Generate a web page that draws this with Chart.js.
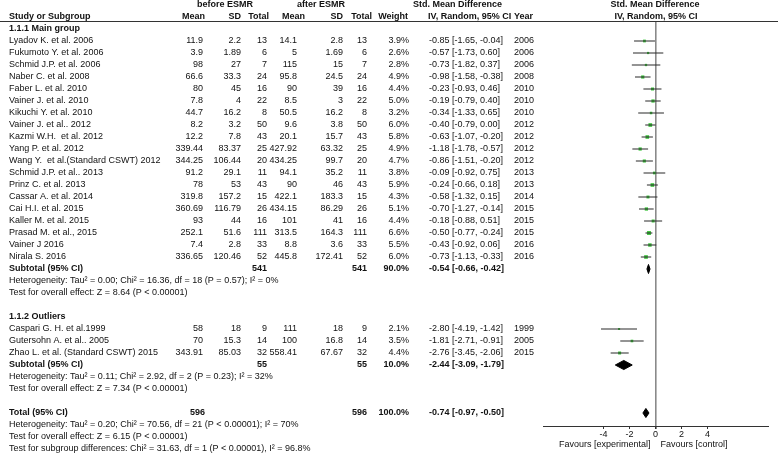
<!DOCTYPE html>
<html>
<head>
<meta charset="utf-8">
<script src="https://cdn.jsdelivr.net/npm/chart.js@4.4.1/dist/chart.umd.min.js"></script>
<style>
  html, body { margin: 0; padding: 0; background: #fff; }
  canvas { display: block; }
</style>
</head>
<body>
<canvas id="forest" width="778" height="457"></canvas>
<script>
/**
 * 数据
 */
var studies = [
    'Lyadov K. et al. 2006', 'Fukumoto Y. et al. 2006', 'Schmid J.P. et al. 2006',
    'Naber C. et al. 2008', 'Faber L. et al. 2010', 'Vainer J. et al. 2010',
    'Kikuchi Y. et al. 2010', 'Vainer J. et al.. 2012', 'Kazmi W.H.  et al. 2012',
    'Yang P. et al. 2012', 'Wang Y.  et al.(Standard CSWT) 2012', 'Schmid J.P. et al.. 2013',
    'Prinz C. et al. 2013', 'Cassar A. et al. 2014', 'Cai H.I. et al. 2015',
    'Kaller M. et al. 2015', 'Prasad M. et al., 2015', 'Vainer J 2016', 'Nirala S. 2016',
    'Caspari G. H. et al.1999', 'Gutersohn A. et al.. 2005', 'Zhao L. et al. (Standard CSWT) 2015'
];
var subgroup = [0,0,0,0,0,0,0,0,0,0,0,0,0,0,0,0,0,0,0, 1,1,1];
var beforeMean = ['11.9','3.9','98','66.6','80','7.8','44.7','8.2','12.2','339.44','344.25','91.2','78','319.8','360.69','93','252.1','7.4','336.65','58','70','343.91'];
var beforeSD = ['2.2','1.89','27','33.3','45','4','16.2','3.2','7.8','83.37','106.44','29.1','53','157.2','116.79','44','51.6','2.8','120.46','18','15.3','85.03'];
var beforeN = [13,6,7,24,16,22,8,50,43,25,20,11,43,15,26,16,111,33,52,9,14,32];
var afterMean = ['14.1','5','115','95.8','90','8.5','50.5','9.6','20.1','427.92','434.25','94.1','90','422.1','434.15','101','313.5','8.8','445.8','111','100','558.41'];
var afterSD = ['2.8','1.69','15','24.5','39','3','16.2','3.8','15.7','63.32','99.7','35.2','46','183.3','86.29','41','164.3','3.6','172.41','18','16.8','67.67'];
var afterN = [13,6,7,24,16,22,8,50,43,25,20,11,43,15,26,16,111,33,52,9,14,32];
var weight = [3.9,2.6,2.8,4.9,4.4,5.0,3.2,6.0,5.8,4.9,4.7,3.8,5.9,4.3,5.1,4.4,6.6,5.5,6.0,2.1,3.5,4.4];
var smd = [-0.85,-0.57,-0.73,-0.98,-0.23,-0.19,-0.34,-0.40,-0.63,-1.18,-0.86,-0.09,-0.24,-0.58,-0.70,-0.18,-0.50,-0.43,-0.73,-2.80,-1.81,-2.76];
var ciLow = [-1.65,-1.73,-1.82,-1.58,-0.93,-0.79,-1.33,-0.79,-1.07,-1.78,-1.51,-0.92,-0.66,-1.32,-1.27,-0.88,-0.77,-0.92,-1.13,-4.19,-2.71,-3.45];
var ciHigh = [-0.04,0.60,0.37,-0.38,0.46,0.40,0.65,0.00,-0.20,-0.57,-0.20,0.75,0.18,0.15,-0.14,0.51,-0.24,0.06,-0.33,-1.42,-0.91,-2.06];
var year = [2006,2006,2006,2008,2010,2010,2010,2012,2012,2012,2012,2013,2013,2014,2015,2015,2015,2016,2016,1999,2005,2015];

var groupTitles = ['1.1.1 Main group', '1.1.2 Outliers'];
var summaryLabels = ['Subtotal (95% CI)', 'Subtotal (95% CI)', 'Total (95% CI)'];
var summaryN = [541, 55, 596];
var summaryWeight = [90.0, 10.0, 100.0];
var summaryEst = [-0.54, -2.44, -0.74];
var summaryLow = [-0.66, -3.09, -0.97];
var summaryHigh = [-0.42, -1.79, -0.50];
var summaryNotes = [
    ['Heterogeneity: Tau\u00b2 = 0.00; Chi\u00b2 = 16.36, df = 18 (P = 0.57); I\u00b2 = 0%',
     'Test for overall effect: Z = 8.64 (P < 0.00001)'],
    ['Heterogeneity: Tau\u00b2 = 0.11; Chi\u00b2 = 2.92, df = 2 (P = 0.23); I\u00b2 = 32%',
     'Test for overall effect: Z = 7.34 (P < 0.00001)'],
    ['Heterogeneity: Tau\u00b2 = 0.20; Chi\u00b2 = 70.56, df = 21 (P < 0.00001); I\u00b2 = 70%',
     'Test for overall effect: Z = 6.15 (P < 0.00001)',
     'Test for subgroup differences: Chi\u00b2 = 31.63, df = 1 (P < 0.00001), I\u00b2 = 96.8%']
];
var xTicks = [-4, -2, 0, 2, 4];

/**
 * 行号 (排版)
 */
var studyRow = [];
var summaryRow = [];
var titleRow = [];
(function () {
    var r = 2;
    for (var g = 0; g < 2; g++) {
        titleRow.push(r);
        r++;
        for (var i = 0; i < studies.length; i++) {
            if (subgroup[i] === g) { studyRow[i] = r; r++; }
        }
        summaryRow.push(r);
        r += 1 + summaryNotes[g].length + 1;
    }
    summaryRow.push(r);
})();

function ciText(e, lo, hi) {
    return e.toFixed(2) + ' [' + lo.toFixed(2) + ', ' + hi.toFixed(2) + ']';
}

/**
 * 数据集
 */
var ciLines = [];
var squares = [];
for (var i = 0; i < studies.length; i++) {
    ciLines.push({x: ciLow[i], y: studyRow[i]}, {x: ciHigh[i], y: studyRow[i]}, {x: null, y: null});
    squares.push({x: smd[i], y: studyRow[i]});
}

var datasets = [{
    label: 'ci',
    data: ciLines,
    showLine: true,
    spanGaps: false,
    borderColor: '#2b2b2b',
    borderWidth: 1.2,
    pointRadius: 0
}, {
    label: 'square',
    data: squares,
    pointStyle: 'rect',
    pointRadius: weight.map(function (w) { return 0.8 + w * 0.3; }),
    backgroundColor: '#3fc63f',
    borderWidth: 0
}];

for (var k = 0; k < summaryEst.length; k++) {
    var r = summaryRow[k], h = 0.38;
    datasets.push({
        label: 'diamond' + k,
        data: [
            {x: summaryLow[k], y: r},
            {x: summaryEst[k], y: r - h},
            {x: summaryHigh[k], y: r},
            {x: summaryEst[k], y: r + h},
            {x: summaryLow[k], y: r}
        ],
        showLine: true,
        fill: 'shape',
        backgroundColor: '#000',
        borderColor: '#000',
        borderWidth: 1,
        pointRadius: 0,
        tension: 0
    });
}

/**
 * 表格文字
 */
var FONT = '9px Arial, "Liberation Sans", sans-serif';
var BOLD = 'bold 9px Arial, "Liberation Sans", sans-serif';

var tablePlugin = {
    id: 'table',
    afterDraw: function (chart) {
        var ctx = chart.ctx;
        var ys = chart.scales.y;
        var xs = chart.scales.x;
        var Y = function (row) { return ys.getPixelForValue(row); };

        ctx.save();
        ctx.fillStyle = '#111';
        ctx.textBaseline = 'middle';

        function txt(s, x, row, align, bold) {
            ctx.font = bold ? BOLD : FONT;
            ctx.textAlign = align || 'left';
            ctx.fillText(s, x, Y(row));
        }

        // 表头
        txt('before ESMR', 225, 0, 'center', true);
        txt('after ESMR', 321, 0, 'center', true);
        txt('Std. Mean Difference', 413, 0, 'left', true);
        txt('Std. Mean Difference', 655, 0, 'center', true);
        txt('Study or Subgroup', 9, 1, 'left', true);
        txt('Mean', 205, 1, 'right', true);
        txt('SD', 241, 1, 'right', true);
        txt('Total', 269, 1, 'right', true);
        txt('Mean', 305, 1, 'right', true);
        txt('SD', 343, 1, 'right', true);
        txt('Total', 372, 1, 'right', true);
        txt('Weight', 408, 1, 'right', true);
        txt('IV, Random, 95% CI', 428, 1, 'left', true);
        txt('Year', 514, 1, 'left', true);
        txt('IV, Random, 95% CI', 656, 1, 'center', true);

        // 表头下横线
        ctx.strokeStyle = '#333';
        ctx.lineWidth = 1;
        ctx.beginPath();
        ctx.moveTo(0, 21.5);
        ctx.lineTo(778, 21.5);
        ctx.stroke();

        // 研究行
        for (var i = 0; i < studies.length; i++) {
            var r = studyRow[i];
            txt(studies[i], 9, r);
            txt(beforeMean[i], 203, r, 'right');
            txt(beforeSD[i], 241, r, 'right');
            txt(String(beforeN[i]), 267, r, 'right');
            txt(afterMean[i], 297, r, 'right');
            txt(afterSD[i], 343, r, 'right');
            txt(String(afterN[i]), 367, r, 'right');
            txt(weight[i].toFixed(1) + '%', 409, r, 'right');
            txt(ciText(smd[i], ciLow[i], ciHigh[i]), 429, r, 'left');
            txt(String(year[i]), 514, r, 'left');
        }

        // 亚组与合计
        for (var g = 0; g < titleRow.length; g++) {
            txt(groupTitles[g], 9, titleRow[g], 'left', true);
        }
        for (var k = 0; k < summaryLabels.length; k++) {
            var sr = summaryRow[k];
            txt(summaryLabels[k], 9, sr, 'left', true);
            txt(String(summaryN[k]), k === 2 ? 205 : 267, sr, 'right', true);
            txt(String(summaryN[k]), 367, sr, 'right', true);
            txt(summaryWeight[k].toFixed(1) + '%', 409, sr, 'right', true);
            txt(ciText(summaryEst[k], summaryLow[k], summaryHigh[k]), 429, sr, 'left', true);
            for (var n = 0; n < summaryNotes[k].length; n++) {
                txt(summaryNotes[k][n], 9, sr + 1 + n, 'left');
            }
        }

        // 横轴说明
        var x0 = xs.getPixelForValue(0);
        ctx.font = FONT;
        ctx.textAlign = 'right';
        ctx.fillText('Favours [experimental]', x0 - 5, 444.5);
        ctx.textAlign = 'left';
        ctx.fillText('Favours [control]', x0 + 5, 444.5);
        ctx.restore();
    }
};

/**
 * 森林图
 */
var ctx = document.getElementById('forest').getContext('2d');
window.myChart = new Chart(ctx, {
    type: 'scatter',
    data: { datasets: datasets },
    options: {
        responsive: false,
        animation: false,
        layout: {
            padding: { left: 543, right: 10, top: 21, bottom: 0 }
        },
        plugins: {
            legend: { display: false },
            tooltip: { enabled: false }
        },
        scales: {
            x: {
                type: 'linear',
                min: -8.65,
                max: 8.65,
                afterBuildTicks: function (scale) {
                    scale.ticks = xTicks.map(function (v) { return {value: v}; });
                },
                afterFit: function (scale) { scale.height = 31; },
                border: { display: true, color: '#333', width: 1 },
                grid: {
                    drawOnChartArea: true,
                    color: function (c) {
                        return c.tick && c.tick.value === 0 ? '#8a8a8a' : 'rgba(0,0,0,0)';
                    },
                    lineWidth: function (c) {
                        return c.tick && c.tick.value === 0 ? 1.6 : 1;
                    },
                    tickColor: '#333',
                    tickLength: 3
                },
                ticks: {
                    padding: 0,
                    color: '#111',
                    font: { family: 'Arial, "Liberation Sans", sans-serif', size: 9 },
                    callback: function (v) { return v; }
                }
            },
            y: {
                type: 'linear',
                display: false,
                reverse: true,
                min: 16 / 12,
                max: 421 / 12
            }
        }
    },
    plugins: [tablePlugin]
});
</script>
</body>
</html>
